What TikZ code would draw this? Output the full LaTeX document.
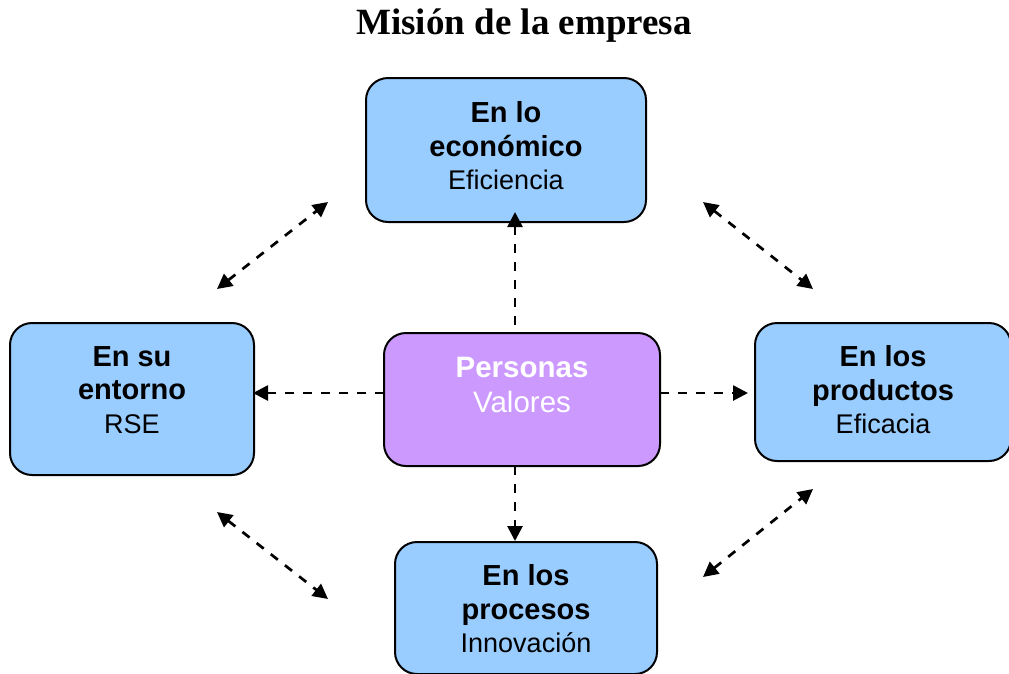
\documentclass[tikz,border=0pt]{standalone}
\usepackage{fontspec}
\setmainfont{Liberation Sans}
\newfontfamily\titlefont{Liberation Serif}
\usetikzlibrary{arrows.meta}
\definecolor{boxblue}{HTML}{99CCFF}
\definecolor{boxpurple}{HTML}{CC99FF}
\newcommand{\bbig}[1]{{\fontsize{29}{33.5}\selectfont\bfseries #1}}
\tikzset{
  bluebox/.style={draw=black, line width=2pt, fill=boxblue, rounded corners=22pt, inner sep=0pt},
  purplebox/.style={draw=black, line width=2pt, fill=boxpurple, rounded corners=22pt, inner sep=0pt},
  boxtext/.style={align=center, font=\fontsize{27}{33.5}\selectfont, inner sep=0pt},
  midtext/.style={align=center, font=\fontsize{29.5}{35}\selectfont, inner sep=0pt, text=white},
  tip/.style={Triangle[length=15pt,width=15pt]},
  conn/.style={line width=2.7pt, dash pattern=on 9pt off 9pt, -{Triangle[length=15pt,width=15pt]}},
  dconn/.style={line width=2.7pt, dash pattern=on 9pt off 9pt, {Triangle[length=15pt,width=15pt]}-{Triangle[length=15pt,width=15pt]}},
}
\begin{document}
\begin{tikzpicture}[x=1pt,y=-1pt]
\useasboundingbox (0,0) rectangle (1009,673);
\node[font=\titlefont\bfseries\fontsize{37}{40}\selectfont] (title) at (524,26) {Misión de la empresa};
% boxes
\node[bluebox, minimum width=280pt, minimum height=144pt] (top) at (506,150) {};
\node[bluebox, minimum width=244pt, minimum height=152pt] (left) at (132,399) {};
\node[purplebox, minimum width=276pt, minimum height=133pt] (mid) at (522,399.5) {};
\node[bluebox, minimum width=256pt, minimum height=138pt] (right) at (883,392) {};
\node[bluebox, minimum width=262pt, minimum height=132pt] (bot) at (526,608) {};
% texts
\node[boxtext] (toptxt) at (506,146) {\bbig{En lo}\\\bbig{económico}\\Eficiencia};
\node[boxtext] (lefttxt) at (132,390) {\bbig{En su}\\\bbig{entorno}\\RSE};
\node[midtext] (midtxt) at (522,384.5) {\textbf{Personas}\\Valores};
\node[boxtext] (righttxt) at (883,390) {\bbig{En los}\\\bbig{productos}\\Eficacia};
\node[boxtext] (bottxt) at (526,609) {\bbig{En los}\\\bbig{procesos}\\Innovación};
% straight connectors
\coordinate (mt) at (515,325);
\coordinate (tt) at (515,212);
\coordinate (mb) at (515,466);
\coordinate (bt) at (515,541);
\coordinate (ml) at (384,393);
\coordinate (lr) at (253,393);
\coordinate (mr) at (660,393);
\coordinate (rl) at (748,393);
\draw[conn] (mt) -- (tt);
\draw[conn] (mb) -- (bt);
\draw[conn] (ml) -- (lr);
\draw[conn] (mr) -- (rl);
% diagonal connectors
\coordinate (ul1) at (217,289);
\coordinate (ul2) at (328,202);
\coordinate (ur1) at (703,202);
\coordinate (ur2) at (813,289);
\coordinate (ll1) at (217,512);
\coordinate (ll2) at (328,599);
\coordinate (lr1) at (703,577);
\coordinate (lr2) at (813,489);
\draw[dconn] (ul1) -- (ul2);
\draw[dconn] (ur1) -- (ur2);
\draw[dconn] (ll1) -- (ll2);
\draw[dconn] (lr1) -- (lr2);
\end{tikzpicture}
\end{document}
